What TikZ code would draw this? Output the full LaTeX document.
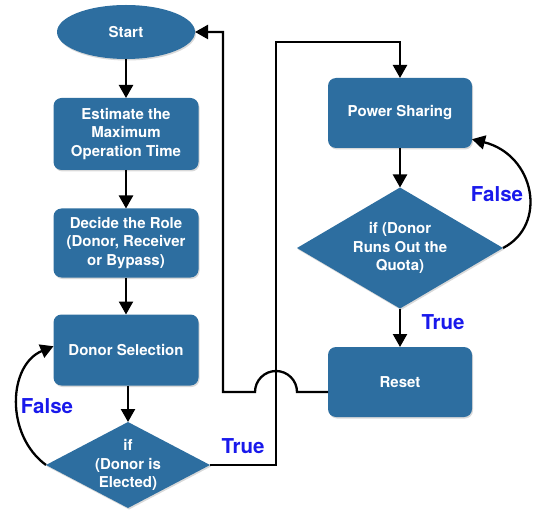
\documentclass[tikz,border=0pt]{standalone}
\usepackage{fontspec}
\setmainfont{TeX Gyre Heros}
\usetikzlibrary{arrows.meta,shapes.geometric,shadows}
\definecolor{boxblue}{RGB}{45,110,160}
\definecolor{lblue}{RGB}{25,25,235}
\begin{document}
\begin{tikzpicture}[x=1pt,y=-1pt,
  base/.style={fill=boxblue, text=white, font=\fontsize{15}{18.3}\selectfont\bfseries,
    align=center, inner sep=0pt, outer sep=0pt,
    drop shadow={opacity=0.3,shadow xshift=1pt,shadow yshift=-1.5pt}},
  procbox/.style={base, rectangle, rounded corners=8pt, minimum width=145pt, minimum height=71pt},
  startnode/.style={base, ellipse, minimum width=138pt, minimum height=54pt},
  decision/.style={base, diamond},
  conn/.style={line width=2.3pt, black},
  arr/.style={conn, -{Triangle[length=13pt,width=14pt]}},
  lbl/.style={text=lblue, font=\fontsize{20.5}{24}\selectfont\bfseries}
]
\useasboundingbox (0,0) rectangle (534,510);

\node[startnode] (st) at (126,32) {Start};
\node[procbox, minimum height=72pt] (est) at (126,134) {Estimate the\\Maximum\\Operation Time};
\node[procbox, minimum height=69pt] (dec) at (126,243) {Decide the Role\\(Donor, Receiver\\or Bypass)};
\node[procbox] (ds) at (126,350) {Donor Selection};
\node[decision, minimum width=164pt, minimum height=86pt, shape aspect=1.9] (d1) at (128,465) {if\\(Donor is\\Elected)};
\node[procbox, minimum width=144pt, minimum height=70pt] (ps) at (400,113) {Power Sharing};
\node[decision, minimum width=206pt, minimum height=121pt, shape aspect=1.7] (d2) at (400,248) {if (Donor\\Runs Out the\\Quota)};
\node[procbox, minimum width=144pt, minimum height=70pt] (rs) at (400,382) {Reset};

\draw[arr] (st.south) -- (est.north);
\draw[arr] (est.south) -- (dec.north);
\draw[arr] (dec.south) -- (ds.north);
\draw[arr] (d1.north |- ds.south) -- (d1.north);
\draw[arr] (ps.south) -- (d2.north);
\draw[arr] (d2.south) -- (rs.north);

\draw[arr] (d1.west) .. controls (5,435) and (8,365) .. (ds.177);
\draw[arr] (d2.east) .. controls (548,225) and (535,155) .. (ps.-20);

\coordinate (tt) at (276,42);
\draw[arr] (d1.east) -| (tt) -| (ps.north);

\coordinate (hopR) at (297,392);
\coordinate (turn) at (223,392);
\draw[arr] ([yshift=-10pt]rs.west) -- (hopR) arc[start angle=0,end angle=180,radius=21pt] -- (turn) |- (st.east);

\node[lbl] (f1) at (47,406) {False};
\node[lbl] (t1) at (243,446) {True};
\node[lbl] (f2) at (497,194) {False};
\node[lbl] (t2) at (443,322) {True};
\end{tikzpicture}
\end{document}
